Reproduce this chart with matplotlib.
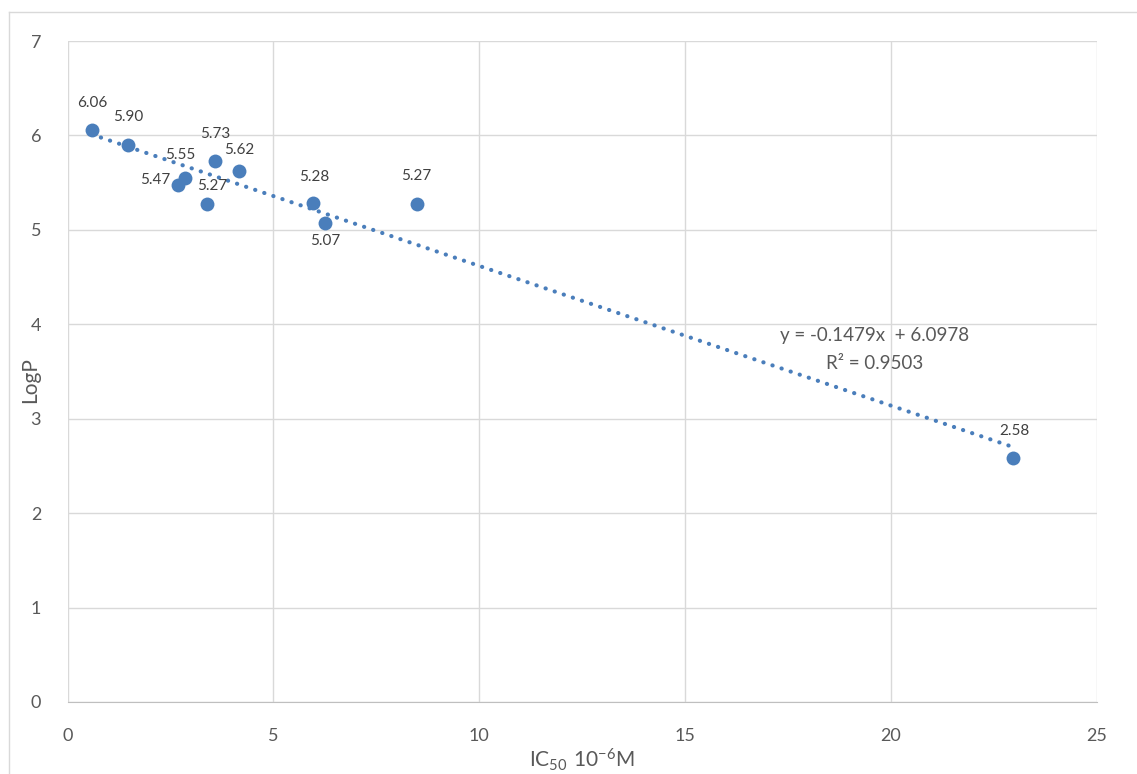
import matplotlib.pyplot as plt
from matplotlib.lines import Line2D
import numpy as np

plt.rcParams['font.family'] = ['Lato', 'DejaVu Sans']
plt.rcParams['mathtext.fontset'] = 'custom'
plt.rcParams['mathtext.rm'] = 'Lato'

# IC50 (10^-6 M) against LogP
ic50 = [0.59, 1.46, 2.68, 2.86, 3.39, 3.58, 4.17, 5.97, 6.26, 8.48, 22.98]
logp = [6.06, 5.90, 5.47, 5.55, 5.27, 5.73, 5.62, 5.28, 5.07, 5.27, 2.58]

# where each value label sits relative to its point (pixels)
lbl_off = [(0, 27), (1, 28), (-23, 5), (-5, 23), (5, 18), (0, 27),
           (0, 21), (1, 26), (0, -18), (0, 28), (1, 27)]

slope = -0.1479
intercept = 6.0978
r2 = 0.9503

blue = '#4a7ebb'
grey_txt = '#595959'

fig = plt.figure(figsize=(11.37, 7.74), dpi=100)
ax = fig.add_axes([67.5 / 1137, 1 - 702 / 774, (1096.5 - 67.5) / 1137, (702 - 41) / 774])

# trendline
tx = np.array([min(ic50), max(ic50)])
ax.plot(tx, slope * tx + intercept, color=blue, lw=3.0,
        linestyle=(0, (0.05, 2.25)), dash_capstyle='round', zorder=2)

ax.scatter(ic50, logp, s=100, color=blue, zorder=3, linewidths=0)

for x, y, (dx, dy) in zip(ic50, logp, lbl_off):
    ax.annotate(f'{y:.2f}', (x, y), xytext=(dx, dy), textcoords='offset pixels',
                ha='center', va='center', fontsize=11, color='#404040')

ax.text(19.6, 3.88, f'y = {slope}x  + {intercept}', ha='center', va='center',
        fontsize=13.5, color=grey_txt)
ax.text(19.6, 3.58, f'R² = {r2}', ha='center', va='center',
        fontsize=13.5, color=grey_txt)

ax.set_xlim(0, 25)
ax.set_ylim(0, 7)
ax.set_xticks(range(0, 26, 5))
ax.set_yticks(range(0, 8))
ax.grid(True, color='#d9d9d9', lw=1)
ax.set_axisbelow(True)
for s in ['top', 'right', 'left']:
    ax.spines[s].set_visible(False)
ax.spines['bottom'].set_color('#bfbfbf')
ax.tick_params(length=0, labelsize=13, labelcolor=grey_txt)
ax.tick_params(axis='x', pad=19)
ax.tick_params(axis='y', pad=19)

ax.set_xlabel(r'$\mathregular{IC_{50}\ 10^{-6}M}$', fontsize=15, color=grey_txt)
ax.set_ylabel('LogP', fontsize=15, color=grey_txt)
ax.xaxis.set_label_coords(0.5, -0.088)
ax.yaxis.set_label_coords(-0.036, 0.487)
ax.xaxis.label.set_va('center')
ax.yaxis.label.set_va('center')

# chart frame
fig.add_artist(Line2D([9 / 1137, 1], [1 - 12 / 774] * 2, color='#d9d9d9', lw=1))
fig.add_artist(Line2D([9 / 1137] * 2, [0, 1 - 12 / 774], color='#d9d9d9', lw=1))

fig.savefig('out.png', dpi=100)
